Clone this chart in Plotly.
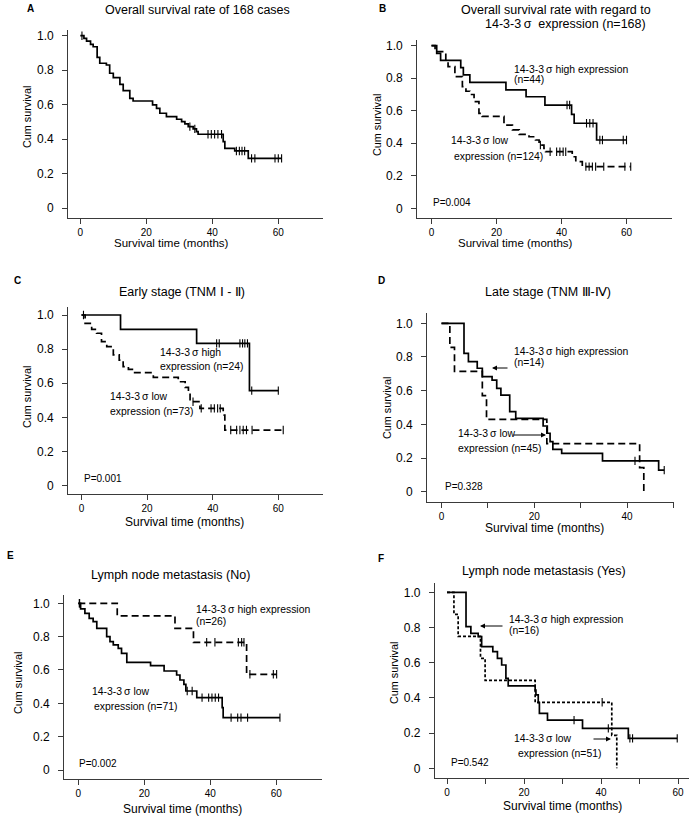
import plotly.graph_objects as go

W, H = 699, 819
FONT = "Liberation Sans, Arial, sans-serif"

# ---------------- data ----------------
# Panel A: overall survival
A_t = [0, 1.1, 1.9, 3.1, 3.9, 5.1, 5.9, 7.9, 8.9, 10.0, 12.0, 13.0, 15.0, 16.0, 21.9, 23.1, 24.1,
       26.1, 29.2, 30.7, 31.7, 32.7, 34.2, 35.2, 35.7, 43.3, 43.8, 46.8, 50.9, 61.0]
A_s = [1.0, 0.985, 0.969, 0.95, 0.936, 0.874, 0.84, 0.83, 0.782, 0.757, 0.718, 0.681, 0.636, 0.621,
       0.598, 0.578, 0.55, 0.53, 0.515, 0.501, 0.488, 0.472, 0.459, 0.443, 0.428, 0.385, 0.346,
       0.331, 0.288, 0.288]
A_cens = [0.5, 33.2, 34.7, 38.7, 39.7, 40.7, 41.7, 42.8, 47.3, 48.2, 49.0, 49.8, 51.9, 52.9, 59.0, 60.0, 61.0]

# Panel B
B_hi_t = [0, 1.6, 2.8, 9.0, 9.8, 11.8, 22.9, 29.1, 34.9, 43.1, 43.9, 50.8, 60.0]
B_hi_s = [1.0, 0.953, 0.91, 0.865, 0.82, 0.775, 0.728, 0.686, 0.635, 0.578, 0.523, 0.42, 0.42]
B_hi_cens = [41.7, 42.5, 47.7, 48.7, 49.7, 51.8, 52.6, 59.0, 60.0]
B_lo_t = [0, 1.1, 4.4, 5.1, 7.2, 9.5, 10.6, 11.8, 13.1, 14.6, 15.6, 22.3, 24.9, 27.0, 30.0, 32.0,
          33.1, 34.6, 35.1, 43.3, 44.4, 46.4, 61.3]
B_lo_s = [1.0, 0.963, 0.912, 0.871, 0.81, 0.748, 0.72, 0.70, 0.656, 0.584, 0.565, 0.512, 0.482,
          0.455, 0.44, 0.42, 0.389, 0.369, 0.348, 0.317, 0.287, 0.256, 0.256]
B_lo_cens = [33.5, 36.5, 38.5, 39.5, 40.5, 41.3, 47.5, 48.5, 49.5, 50.5, 53.0, 59.5, 61.3]

# Panel C
C_hi_t = [0, 11.9, 35.1, 51.2, 60.0]
C_hi_s = [1.0, 0.916, 0.834, 0.557, 0.557]
C_hi_cens = [41.2, 42.0, 48.3, 49.1, 49.8, 50.6, 51.9, 60.0]
C_lo_t = [0, 1.1, 3.1, 4.6, 6.1, 7.7, 9.7, 11.5, 12.7, 14.3, 15.8, 21.9, 29.5, 31.6, 32.6, 33.1,
          36.1, 43.2, 43.7, 61.5]
C_lo_s = [1.0, 0.951, 0.916, 0.893, 0.844, 0.815, 0.766, 0.736, 0.697, 0.682, 0.662, 0.635, 0.609,
          0.576, 0.551, 0.492, 0.453, 0.414, 0.326, 0.326]
C_lo_cens = [0.6, 34.0, 36.5, 39.5, 40.5, 41.5, 42.3, 45.5, 47.3, 48.3, 49.3, 50.3, 52.0, 61.5]

# Panel D
D_sol_t = [0, 4.85, 5.8, 7.7, 8.8, 10.9, 11.9, 12.8, 14.7, 16.0, 21.9, 22.8, 23.4, 24.0, 25.9,
           34.7, 46.8, 48.0]
D_sol_s = [1.0, 0.822, 0.772, 0.733, 0.683, 0.663, 0.614, 0.574, 0.475, 0.436, 0.39, 0.347, 0.297,
           0.251, 0.228, 0.183, 0.128, 0.128]
D_sol_cens = [41.7, 48.0]
D_dash_t = [0, 1.8, 2.8, 8.8, 9.7, 22.7, 42.7, 43.6]
D_dash_s = [1.0, 0.857, 0.714, 0.571, 0.429, 0.286, 0.143, 0.0]
D_dash_cens = []

# Panel E
E_hi_t = [0, 11.8, 29.3, 34.9, 51.0, 60.1]
E_hi_s = [1.0, 0.924, 0.85, 0.766, 0.574, 0.574]
E_hi_cens = [0.4, 38.9, 41.4, 48.5, 49.5, 50.2, 52.0, 59.1, 60.1]
E_lo_t = [0, 0.7, 2.0, 3.3, 4.5, 5.6, 8.6, 9.6, 10.6, 12.1, 13.1, 14.7, 21.9, 26.0, 29.8, 30.8,
          32.0, 32.6, 35.9, 43.6, 43.9, 61.1]
E_lo_s = [1.0, 0.966, 0.94, 0.91, 0.89, 0.85, 0.8, 0.77, 0.75, 0.73, 0.70, 0.646, 0.626, 0.594,
          0.57, 0.54, 0.514, 0.474, 0.434, 0.374, 0.314, 0.314]
E_lo_cens = [0.3, 33.0, 34.5, 37.5, 39.5, 40.5, 41.5, 42.5, 46.3, 48.3, 49.3, 51.3, 61.1]

# Panel F
F_sol_t = [0, 4.94, 6.2, 8.1, 9.0, 11.9, 13.1, 14.2, 15.3, 15.9, 22.9, 23.1, 23.7, 24.0, 26.1,
           35.2, 47.1, 59.8]
F_sol_s = [1.0, 0.805, 0.767, 0.748, 0.691, 0.663, 0.625, 0.587, 0.511, 0.468, 0.445, 0.417,
           0.373, 0.312, 0.274, 0.227, 0.17, 0.17]
F_sol_cens = [33.0, 41.9, 47.5, 48.2, 59.8]
F_dot_t = [0, 1.8, 2.9, 8.7, 9.9, 22.9, 42.8, 44.1]
F_dot_s = [1.0, 0.875, 0.75, 0.625, 0.5, 0.375, 0.1875, 0.0]
F_dot_cens = [40.3]

Y_TICKS = [0, 0.2, 0.4, 0.6, 0.8, 1.0]
Y_TICKTEXT = ["0", "0.2", "0.4", "0.6", "0.8", "1.0"]

# ---------------- styling / layout ----------------
SOLID = "solid"
DASH = "7px,4px"
DOT = "3px,2px"

panels = [
    dict(key="A", curves=[(A_t, A_s, A_cens, SOLID)],
         geo=dict(left=68.3, right=323, x0=80.3, ppm=3.3, top=30, bottom=218.3, y0=208, y1=35.7),
         xt=[0, 20, 40, 60], xtt=["0", "20", "40", "60"]),
    dict(key="B", curves=[(B_hi_t, B_hi_s, B_hi_cens, SOLID), (B_lo_t, B_lo_s, B_lo_cens, DASH)],
         geo=dict(left=417.3, right=672, x0=431.5, ppm=3.25, top=40, bottom=217.5, y0=208.3, y1=45.7),
         xt=[0, 20, 40, 60], xtt=["0", "20", "40", "60"]),
    dict(key="C", curves=[(C_hi_t, C_hi_s, C_hi_cens, SOLID), (C_lo_t, C_lo_s, C_lo_cens, DASH)],
         geo=dict(left=68.3, right=323, x0=81.5, ppm=3.28, top=306.7, bottom=494, y0=485.7, y1=315),
         xt=[0, 20, 40, 60], xtt=["0", "20", "40", "60"]),
    dict(key="D", curves=[(D_sol_t, D_sol_s, D_sol_cens, SOLID), (D_dash_t, D_dash_s, D_dash_cens, DASH)],
         geo=dict(left=427.3, right=674, x0=441.5, ppm=4.64, top=313, bottom=502, y0=491.7, y1=323.3),
         xt=[0, 10, 20, 30, 40, 50], xtt=["0", "", "20", "", "40", ""]),
    dict(key="E", curves=[(E_hi_t, E_hi_s, E_hi_cens, DASH), (E_lo_t, E_lo_s, E_lo_cens, SOLID)],
         geo=dict(left=64.3, right=321.7, x0=78.3, ppm=3.3, top=595, bottom=779, y0=770, y1=603.3),
         xt=[0, 20, 40, 60], xtt=["0", "20", "40", "60"]),
    dict(key="F", curves=[(F_sol_t, F_sol_s, F_sol_cens, SOLID), (F_dot_t, F_dot_s, F_dot_cens, DOT)],
         geo=dict(left=435, right=689, x0=447, ppm=3.85, top=583, bottom=778.3, y0=768.3, y1=592.3),
         xt=[0, 10, 20, 30, 40, 50, 60], xtt=["0", "", "20", "", "40", "", "60"]),
]


def surv_at(ts, ss, t):
    v = ss[0]
    for ti, si in zip(ts, ss):
        if ti <= t:
            v = si
    return v


fig = go.Figure()
layout = dict(
    width=W, height=H, margin=dict(l=0, r=0, t=0, b=0),
    paper_bgcolor="white", plot_bgcolor="white", showlegend=False,
    font=dict(family=FONT, color="black"),
)

AXCOL = "#3a3a3a"
for i, p in enumerate(panels, start=1):
    g = p["geo"]
    xa = "x" if i == 1 else f"x{i}"
    ya = "y" if i == 1 else f"y{i}"
    for (ts, ss, cens, dash) in p["curves"]:
        fig.add_trace(go.Scatter(
            x=ts, y=ss, mode="lines", xaxis=xa, yaxis=ya, hoverinfo="skip",
            line=dict(shape="hv", color="black", width=1.7, dash=dash)))
        if cens:
            fig.add_trace(go.Scatter(
                x=cens, y=[surv_at(ts, ss, c) for c in cens], mode="markers",
                xaxis=xa, yaxis=ya, hoverinfo="skip",
                marker=dict(symbol="line-ns", size=6, color="black",
                            line=dict(width=1.1, color="black"))))
    yspan = g["y0"] - g["y1"]
    layout["xaxis" if i == 1 else f"xaxis{i}"] = dict(
        domain=[g["left"] / W, g["right"] / W],
        range=[(g["left"] - g["x0"]) / g["ppm"], (g["right"] - g["x0"]) / g["ppm"]],
        anchor=ya, showline=True, linecolor=AXCOL, linewidth=1.3, mirror=False,
        showgrid=False, zeroline=False, ticks="outside", ticklen=5, tickcolor=AXCOL,
        tickwidth=1.2, tickvals=p["xt"], ticktext=p["xtt"],
        tickfont=dict(size=10, family=FONT, color="black"), ticklabelstandoff=0,
    )
    layout["yaxis" if i == 1 else f"yaxis{i}"] = dict(
        domain=[1 - g["bottom"] / H, 1 - g["top"] / H],
        range=[(g["y0"] - g["bottom"]) / yspan, (g["y0"] - g["top"]) / yspan],
        anchor=xa, showline=True, linecolor=AXCOL, linewidth=1.3, mirror=False,
        showgrid=False, zeroline=False, ticks="outside", ticklen=5, tickcolor=AXCOL,
        tickwidth=1.2, tickvals=Y_TICKS, ticktext=Y_TICKTEXT,
        tickfont=dict(size=12, family=FONT, color="black"), ticklabelstandoff=6,
    )


def ann(text, x, y, size, anchor="left", bold=False, angle=0):
    return dict(text=f"<b>{text}</b>" if bold else text, x=x / W, y=1 - y / H,
                xref="paper", yref="paper", xanchor=anchor, yanchor="middle",
                showarrow=False, textangle=angle,
                font=dict(size=size, family=FONT, color="black"))


def arrow(tail, head):
    return dict(text="", x=head[0] / W, y=1 - head[1] / H, xref="paper", yref="paper",
                ax=tail[0] - head[0], ay=tail[1] - head[1], showarrow=True,
                arrowhead=2, arrowsize=1, arrowwidth=1, arrowcolor="black", standoff=0)


SIG = "14-3-3\u2009σ\u00a0"
TS = 12.5   # title size
AS = 10.4   # annotation size
anns = [
    # panel letters
    ann("A", 30, 9, 10, "center", bold=True), ann("B", 382, 9, 10, "center", bold=True),
    ann("C", 17, 280, 10, "center", bold=True), ann("D", 381, 280, 10, "center", bold=True),
    ann("E", 10, 555, 10, "center", bold=True), ann("F", 381, 558, 10, "center", bold=True),
    # titles
    ann("Overall survival rate of 168 cases", 197, 10, TS, "center"),
    ann("Overall survival rate with regard to", 556, 10, TS, "center"),
    ann(SIG + " expression (n=168)", 565, 24, TS, "center"),
    ann("Early stage (TNM \u2160 - \u2161)", 182, 292, TS, "center"),
    ann("Late stage (TNM \u2162-\u2163)", 548, 292, TS, "center"),
    ann("Lymph node metastasis (No)", 170, 575, TS, "center"),
    ann("Lymph node metastasis (Yes)", 544, 571, TS, "center"),
    # y axis titles
    ann("Cum survival", 27, 117, 10.8, "center", angle=-90),
    ann("Cum survival", 377, 125, 10.8, "center", angle=-90),
    ann("Cum survival", 27, 397, 10.8, "center", angle=-90),
    ann("Cum survival", 387, 408, 10.8, "center", angle=-90),
    ann("Cum survival", 18, 683, 10.8, "center", angle=-90),
    ann("Cum survival", 394, 673, 10.8, "center", angle=-90),
    # x axis titles
    ann("Survival time (months)", 171, 243, 11.5, "center"),
    ann("Survival time (months)", 515, 243, 11.5, "center"),
    ann("Survival time (months)", 184, 522, 12, "center"),
    ann("Survival time (months)", 544, 528, 12, "center"),
    ann("Survival time (months)", 182, 809, 12, "center"),
    ann("Survival time (months)", 562, 806, 12, "center"),
    # panel B
    ann(SIG + "high expression", 512, 69, AS), ann("(n=44)", 512, 80, AS),
    ann(SIG + "low", 449, 140, AS), ann("expression (n=124)", 452, 156, AS),
    ann("P=0.004", 431, 202, 10),
    # panel C
    ann(SIG + "high", 158, 352, AS), ann("expression (n=24)", 158, 367, AS),
    ann(SIG + "low", 108, 396, AS), ann("expression (n=73)", 108, 411, AS),
    ann("P=0.001", 82, 478, 10),
    # panel D
    ann(SIG + "high expression", 512, 351, AS), ann("(n=14)", 512, 362, AS),
    ann(SIG + "low", 456, 433, AS), ann("expression (n=45)", 456, 448, AS),
    ann("P=0.328", 443, 486, 10),
    arrow((509, 368), (492, 368)), arrow((512, 435), (546, 435)),
    # panel E
    ann(SIG + "high expression", 194, 609, AS), ann("(n=26)", 194, 621, AS),
    ann(SIG + "low", 90, 691, AS), ann("expression (n=71)", 92, 706, AS),
    ann("P=0.002", 77, 763, 10),
    # panel F
    ann(SIG + "high expression", 507, 619, AS), ann("(n=16)", 507, 630, AS),
    ann(SIG + "low", 512, 738, AS), ann("expression (n=51)", 516, 753, AS),
    ann("P=0.542", 449, 762, 10),
    arrow((504, 626), (480, 626)), arrow((592, 739), (611, 739)),
]
layout["annotations"] = anns
fig.update_layout(**layout)

fig.write_html("out.html", config={"displayModeBar": False},
               post_script="document.body.style.margin='0';")
